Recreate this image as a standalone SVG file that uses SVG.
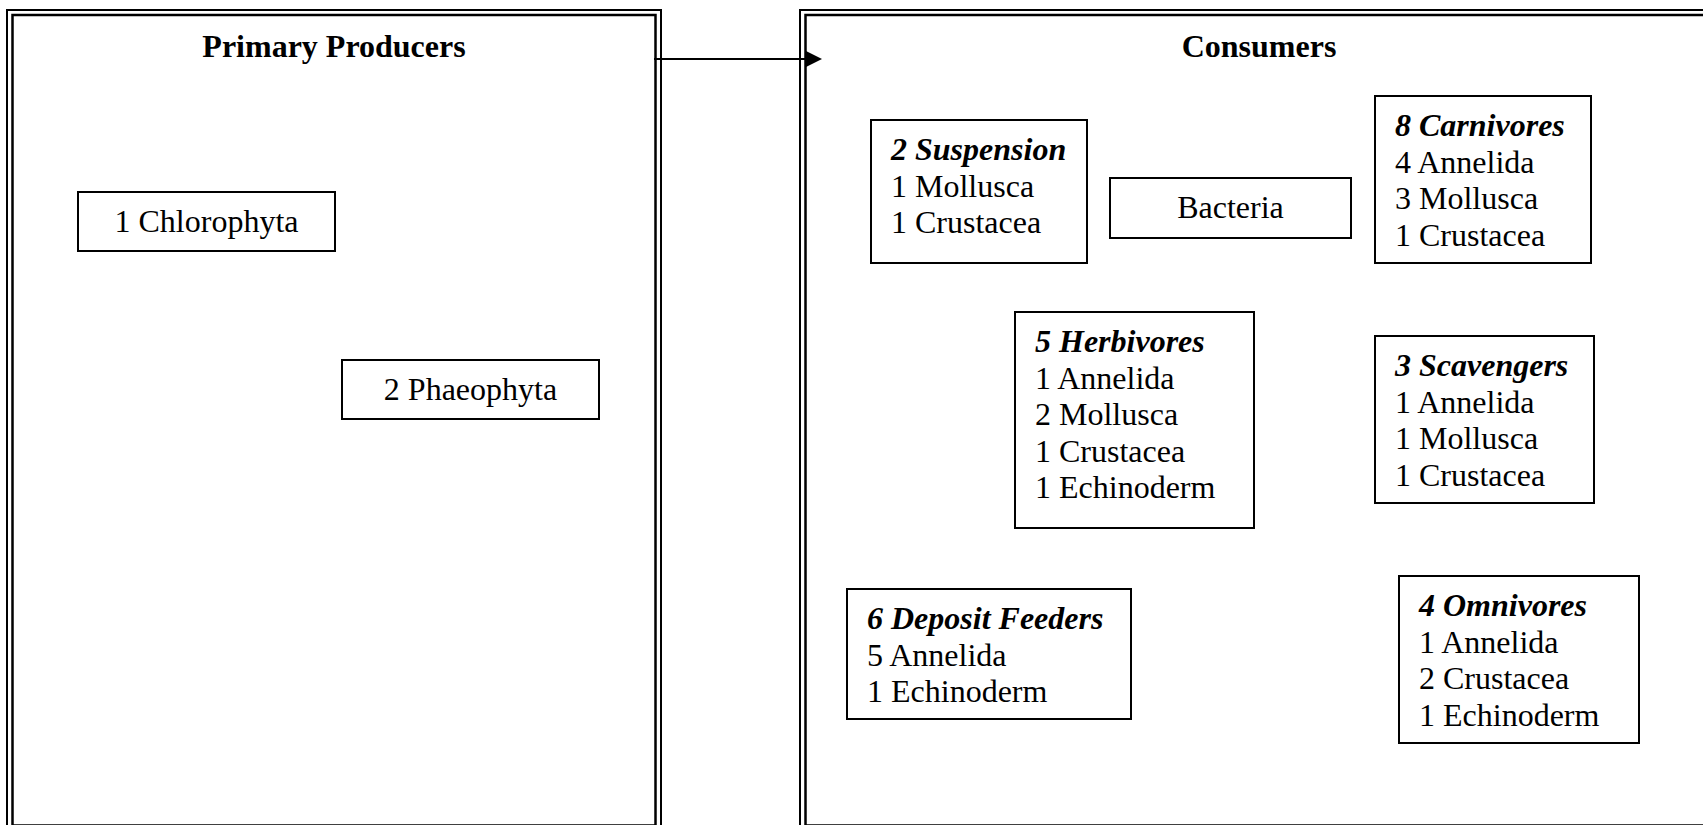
<svg xmlns="http://www.w3.org/2000/svg" width="1703" height="825" viewBox="0 0 1703 825">
  <style>
    .frame-outer { fill: none; stroke: #000; stroke-width: 2; }
    .frame-inner { fill: none; stroke: #000; stroke-width: 2.5; }
    .box { fill: #fff; stroke: #000; stroke-width: 2; }
    text { font-family: "Liberation Serif", "Times New Roman", serif; font-size: 32px; fill: #000; }
    .title { font-weight: bold; text-anchor: middle; }
    .head { font-weight: bold; font-style: italic; }
    .mid { text-anchor: middle; }
    .link { stroke: #000; stroke-width: 2; fill: none; }
  </style>
  <defs>
    <marker id="arrow" markerWidth="16" markerHeight="16" refX="0" refY="8" orient="auto" markerUnits="userSpaceOnUse">
      <path d="M0,0 L16,8 L0,16 Z" fill="#000"/>
    </marker>
  </defs>

  <rect width="1703" height="825" fill="#fff"/>

  <!-- Primary producers panel -->
  <g id="producers">
    <rect class="frame-outer" x="7" y="10" width="654" height="830"/>
    <rect class="frame-inner" x="12.5" y="15" width="643" height="810.5"/>
    <text class="title" x="334" y="57">Primary Producers</text>
  </g>

  <!-- Consumers panel (runs past the right edge) -->
  <g id="consumers">
    <rect class="frame-outer" x="800" y="10" width="920" height="830"/>
    <rect class="frame-inner" x="805.5" y="15" width="910" height="810.5"/>
    <text class="title" x="1259" y="57">Consumers</text>
  </g>

  <g id="chlorophyta">
    <rect class="box" x="78" y="192" width="257" height="59"/>
    <text class="mid" x="206.5" y="232">1 Chlorophyta</text>
  </g>

  <g id="phaeophyta">
    <rect class="box" x="342" y="360" width="257" height="59"/>
    <text class="mid" x="470.5" y="400">2 Phaeophyta</text>
  </g>

  <g id="suspension">
    <rect class="box" x="871" y="120" width="216" height="143"/>
    <text class="head" x="891" y="160">2 Suspension</text>
    <text x="891" y="196.5">1 Mollusca</text>
    <text x="891" y="233">1 Crustacea</text>
  </g>

  <g id="bacteria">
    <rect class="box" x="1110" y="178" width="241" height="60"/>
    <text class="mid" x="1230.5" y="218">Bacteria</text>
  </g>

  <g id="carnivores">
    <rect class="box" x="1375" y="96" width="216" height="167"/>
    <text class="head" x="1395" y="136">8 Carnivores</text>
    <text x="1395" y="172.5">4 Annelida</text>
    <text x="1395" y="209">3 Mollusca</text>
    <text x="1395" y="245.5">1 Crustacea</text>
  </g>

  <g id="herbivores">
    <rect class="box" x="1015" y="312" width="239" height="216"/>
    <text class="head" x="1035" y="352">5 Herbivores</text>
    <text x="1035" y="388.5">1 Annelida</text>
    <text x="1035" y="425">2 Mollusca</text>
    <text x="1035" y="461.5">1 Crustacea</text>
    <text x="1035" y="498">1 Echinoderm</text>
  </g>

  <g id="scavengers">
    <rect class="box" x="1375" y="336" width="219" height="167"/>
    <text class="head" x="1395" y="376">3 Scavengers</text>
    <text x="1395" y="412.5">1 Annelida</text>
    <text x="1395" y="449">1 Mollusca</text>
    <text x="1395" y="485.5">1 Crustacea</text>
  </g>

  <g id="deposit-feeders">
    <rect class="box" x="847" y="589" width="284" height="130"/>
    <text class="head" x="867" y="629">6 Deposit Feeders</text>
    <text x="867" y="665.5">5 Annelida</text>
    <text x="867" y="702">1 Echinoderm</text>
  </g>

  <g id="omnivores">
    <rect class="box" x="1399" y="576" width="240" height="167"/>
    <text class="head" x="1419" y="616">4 Omnivores</text>
    <text x="1419" y="652.5">1 Annelida</text>
    <text x="1419" y="689">2 Crustacea</text>
    <text x="1419" y="725.5">1 Echinoderm</text>
  </g>

  <!-- connectors -->
  <g id="connectors">
    <line class="link" x1="654" y1="59" x2="806" y2="59" marker-end="url(#arrow)"/>
  </g>
</svg>
